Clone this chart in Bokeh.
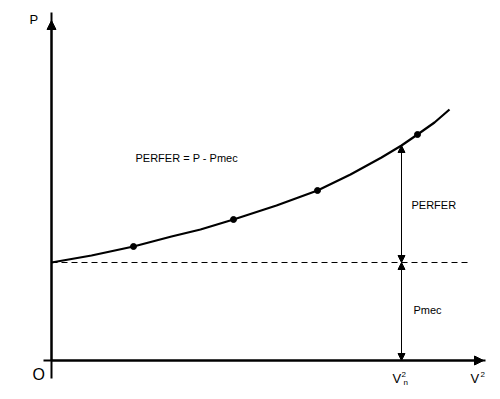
from bokeh.plotting import figure
from bokeh.models import Arrow, NormalHead, ColumnDataSource
from bokeh.core.properties import value
from bokeh.embed import file_html
from bokeh.resources import INLINE

# Curve P(V^2) (origin O at axes crossing)
curve_x = [0, 40, 82, 120, 149, 182, 225, 266, 299, 330, 350, 366, 383, 398]
curve_y = [98, 105, 114, 124, 131, 141, 155, 170, 186, 203, 215, 226, 238, 251]
dots_x = [82, 182, 266, 366]
dots_y = [114, 141, 170, 226]
pmec = 98
vn = 350
p_at_vn = 215
dash_end = 417
axis_x_end = 434
axis_y_end = 348

FONT = value("Liberation Sans")

p = figure(width=500, height=399, x_range=(-51, 449), y_range=(-39, 360),
           output_backend="svg", toolbar_location=None, min_border=0)
p.axis.visible = False
p.grid.visible = False
p.outline_line_color = None
p.background_fill_color = "white"

# axes
p.line([-8, axis_x_end], [0, 0], line_color="black", line_width=2)
p.line([0, 0], [-18, axis_y_end], line_color="black", line_width=2)
p.add_layout(Arrow(end=NormalHead(size=9, fill_color="black", line_color="black"),
                   x_start=0, y_start=0, x_end=0, y_end=axis_y_end - 8,
                   line_width=2, line_color="black"))
p.add_layout(Arrow(end=NormalHead(size=9, fill_color="black", line_color="black"),
                   x_start=0, y_start=0, x_end=axis_x_end - 2, y_end=0,
                   line_width=2, line_color="black"))

# Pmec dashed level
p.line([0, dash_end], [pmec, pmec], line_color="black", line_width=1, line_dash="6 4")

# curve and dots
p.line(curve_x, curve_y, line_color="black", line_width=2.2, line_join="round")
p.scatter(dots_x, dots_y, size=6, marker="circle", fill_color="black", line_color="black")

# measurement arrows
for y0, y1 in [(pmec, p_at_vn), (0, pmec)]:
    p.add_layout(Arrow(start=NormalHead(size=7, fill_color="black", line_color="black"),
                       end=NormalHead(size=7, fill_color="black", line_color="black"),
                       x_start=vn, y_start=y0, x_end=vn, y_end=y1,
                       line_width=1, line_color="black"))

# labels
src = ColumnDataSource(dict(
    x=[84, 360, 362],
    y=[203, 156, 51],
    t=["PERFER = P - Pmec", "PERFER", "Pmec"],
))
p.text("x", "y", text="t", source=src, text_font=FONT, text_font_size="11px",
       text_baseline="middle", text_align="left", text_color="black")

p.text([-22], [341], text=["P"], text_font=FONT, text_font_size="13px",
       text_baseline="middle", text_align="left", text_color="black")
p.text([-19], [-14], text=["O"], text_font=FONT, text_font_size="16px",
       text_baseline="middle", text_align="left", text_color="black")

p.text([419], [-18], text=["V"], text_font=FONT, text_font_size="13px",
       text_baseline="middle", text_align="left", text_color="black")
p.text([429], [-14], text=["2"], text_font=FONT, text_font_size="8px",
       text_baseline="middle", text_align="left", text_color="black")

p.text([341], [-18], text=["V"], text_font=FONT, text_font_size="13px",
       text_baseline="middle", text_align="left", text_color="black")
p.text([350], [-14], text=["2"], text_font=FONT, text_font_size="8px",
       text_baseline="middle", text_align="left", text_color="black")
p.text([352], [-22], text=["n"], text_font=FONT, text_font_size="8px",
       text_baseline="middle", text_align="left", text_color="black")

open("out.html", "w").write(file_html(p, INLINE))
